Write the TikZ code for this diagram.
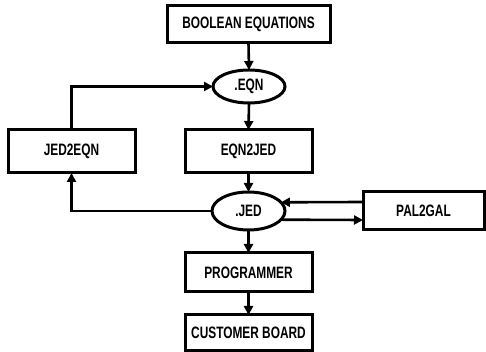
\documentclass[tikz,border=0pt]{standalone}
\usepackage{fontspec}
\setmainfont{Liberation Sans}[FakeStretch=0.72]
\usetikzlibrary{shapes.geometric,arrows.meta}
\begin{document}
\begin{tikzpicture}[x=1pt,y=1pt,
  box/.style={draw,line width=3pt,inner sep=0pt,outer sep=0pt,minimum width=127pt,font=\fontsize{16.5}{18}\selectfont\bfseries},
  oval/.style={draw,ellipse,line width=3pt,inner sep=0pt,outer sep=0pt,font=\fontsize{16.5}{18}\selectfont\bfseries},
  arr/.style={line width=2.6pt,-{Triangle[length=9pt,width=9pt]}}]
\useasboundingbox (0,0) rectangle (486,352);
\node[box,minimum width=163pt,minimum height=37pt] (bool) at (248.5,327.5) {BOOLEAN EQUATIONS};
\node[oval,minimum width=72pt,minimum height=33pt] (eqn) at (249,265.5) {.EQN};
\node[box,minimum height=43pt] (j2e) at (71.5,200.5) {JED2EQN};
\node[box,minimum height=43pt] (e2j) at (248.5,200.5) {EQN2JED};
\node[oval,minimum width=73pt,minimum height=38pt] (jed) at (248.5,141) {.JED};
\node[box,minimum width=121pt,minimum height=38pt] (pal) at (423.5,141) {PAL2GAL};
\node[box,minimum height=39pt] (prog) at (248.5,79.5) {PROGRAMMER};
\node[box,minimum height=36pt] (cust) at (248.5,19) {CUSTOMER BOARD};
\draw[arr] (bool.south) -- (eqn.north);
\draw[arr] (eqn.south) -- (e2j.north);
\draw[arr] (e2j.south) -- (jed.north);
\draw[arr] (jed.south) -- (prog.north);
\draw[arr] (prog.south) -- (cust.north);
\draw[arr] (j2e.north) |- (eqn.west);
\draw[arr] (jed.west) -| (j2e.south);
\draw[arr] ([yshift=9pt]pal.west) -- (jed.15.7);
\draw[arr] (jed.-15.7) -- ([yshift=-9pt]pal.west);
\end{tikzpicture}
\end{document}
